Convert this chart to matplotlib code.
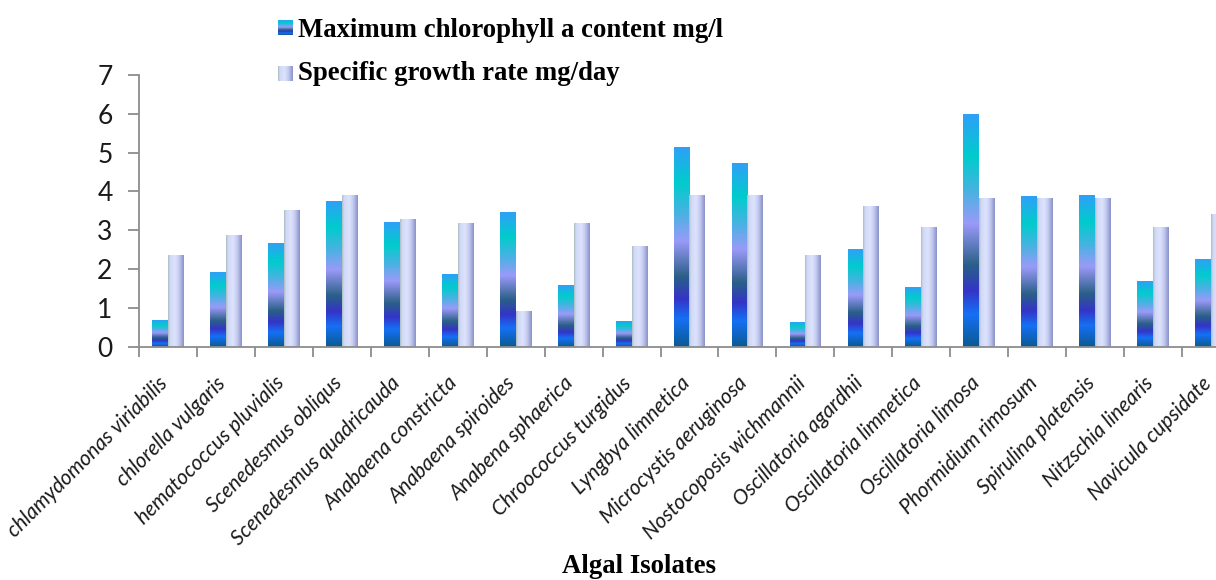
"""
Gráfica de barras: clorofila a máxima y tasa de crecimiento específico por aislado algal.
"""
import numpy as np
import matplotlib
matplotlib.use("Agg")
from matplotlib import pyplot as plt
from matplotlib.colors import LinearSegmentedColormap
from matplotlib.transforms import ScaledTranslation

isolates = ['chlamydomonas viriabilis', 'chlorella vulgaris', 'hematococcus pluvialis',
            'Scenedesmus obliqus', 'Scenedesmus quadricauda', 'Anabaena constricta',
            'Anabaena spiroides', 'Anabena sphaerica', 'Chroococcus turgidus',
            'Lyngbya limnetica', 'Microcystis aeruginosa', 'Nostocoposis wichmannii',
            'Oscillatoria agardhii', 'Oscillatoria limnetica', 'Oscillatoria limosa',
            'Phormidium rimosum', 'Spirulina platensis', 'Nitzschia linearis',
            'Navicula cupsidate']
chlorophyll = [0.68, 1.93, 2.66, 3.75, 3.22, 1.87, 3.46, 1.58, 0.65, 5.14,
               4.73, 0.64, 2.52, 1.53, 5.99, 3.88, 3.91, 1.68, 2.26]
growth = [2.36, 2.89, 3.52, 3.91, 3.28, 3.19, 0.91, 3.19, 2.59, 3.91,
          3.91, 2.36, 3.62, 3.09, 3.82, 3.82, 3.82, 3.09, 3.41]
legend_labels = ['Maximum chlorophyll a content mg/l', 'Specific growth rate mg/day']
yticks = [0, 1, 2, 3, 4, 5, 6, 7]

W, H = 1216, 580

# degradados tipo Excel
chlCmap = LinearSegmentedColormap.from_list('chl', [
    (0.00, '#0a5a90'), (0.14, '#1570f5'), (0.24, '#3434c8'), (0.35, '#2a5f88'),
    (0.53, '#9a9af8'), (0.67, '#48b2e2'), (0.82, '#00cccc'), (1.00, '#2ea0f8')])
grCmap = LinearSegmentedColormap.from_list('gr', [
    (0.00, '#a9bab8'), (0.12, '#cfd8f8'), (0.45, '#dde3fc'), (0.70, '#c3caf0'),
    (1.00, '#8990c8')])
vGrad = np.linspace(0, 1, 256).reshape(-1, 1)
hGrad = np.linspace(0, 1, 256).reshape(1, -1)


def fillGradient(ax, bars, grad, cmap):
    # cada barra se rellena con el degradado completo
    for rect in bars:
        x0, w, h = rect.get_x(), rect.get_width(), rect.get_height()
        im = ax.imshow(grad, extent=[x0, x0 + w, 0, h], origin='lower', aspect='auto',
                       cmap=cmap, interpolation='bilinear', zorder=2)
        im.set_clip_path(rect)


fig = plt.figure(figsize=(W / 100, H / 100), dpi=100)
ax = fig.add_axes([139 / W, (H - 346.7) / H, 1101 / W, (346.7 - 75) / H])

x = np.arange(len(isolates))
bw = 0.273
b1 = ax.bar(x - bw / 2, chlorophyll, bw, facecolor='none', edgecolor='none')
b2 = ax.bar(x + bw / 2, growth, bw, facecolor='none', edgecolor='none')
fillGradient(ax, b1, vGrad, chlCmap)
fillGradient(ax, b2, hGrad, grCmap)

ax.set_xlim(-0.5, len(isolates) - 0.5)
ax.set_ylim(0, 7)
ax.set_yticks(yticks)
ax.set_xticks(x)
ax.set_xticklabels(isolates, rotation=45, ha='right', va='center', rotation_mode='anchor',
                   fontsize=15, style='italic', family='Lato', color='#1a1a1a')
ax.set_xticks(np.arange(len(isolates) + 1) - 0.5, minor=True)
ax.tick_params(axis='x', which='major', length=0, pad=24)
ax.tick_params(axis='x', which='minor', length=7, width=1.3, color='#8c8c8c')
ax.tick_params(axis='y', length=8, width=1.3, color='#8c8c8c', pad=11, labelsize=19)
for lab in ax.get_yticklabels():
    lab.set_family('Lato')
    lab.set_color('#1a1a1a')
offset = ScaledTranslation(-3 / 100, 0, fig.dpi_scale_trans)
for lab in ax.get_xticklabels():
    lab.set_transform(lab.get_transform() + offset)

for s in ['top', 'right']:
    ax.spines[s].set_visible(False)
for s in ['left', 'bottom']:
    ax.spines[s].set_color('#8c8c8c')
    ax.spines[s].set_linewidth(1.3)

# leyenda manual
for i, (lbl, grad, cmap) in enumerate(zip(legend_labels, [vGrad, hGrad], [chlCmap, grCmap])):
    top = [20, 66][i]
    sw = fig.add_axes([278 / W, (H - top - 15) / H, 15 / W, 15 / H])
    sw.imshow(grad, origin='lower', aspect='auto', cmap=cmap, interpolation='bilinear')
    sw.set_axis_off()
    fig.text(298 / W, (H - [37, 80][i]) / H, lbl, family='Liberation Serif', weight='bold',
             fontsize=19.3, va='baseline', ha='left')

fig.text(639 / W, (H - 573) / H, 'Algal Isolates', family='Liberation Serif', weight='bold',
         fontsize=19.3, va='baseline', ha='center')

fig.savefig('out.png', dpi=100)
